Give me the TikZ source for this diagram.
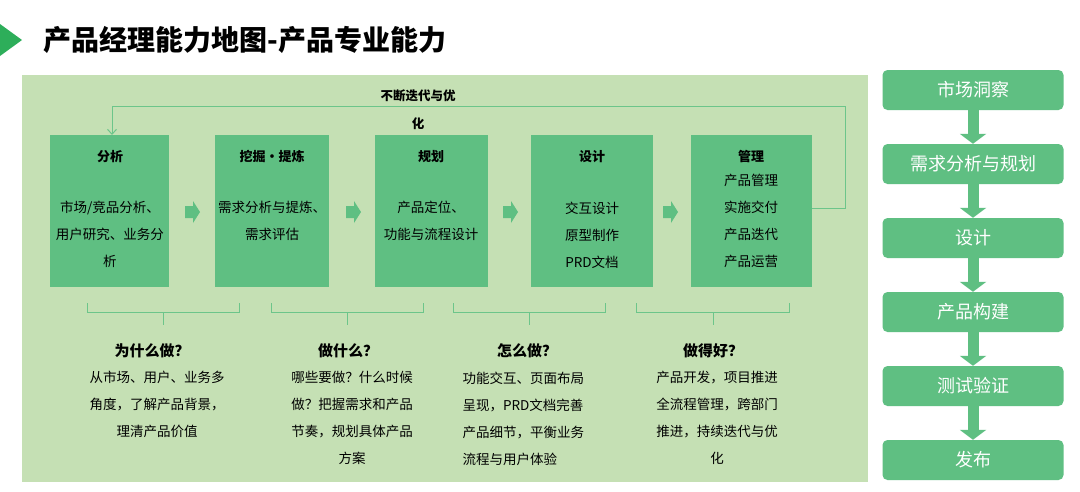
\documentclass[tikz,border=0pt]{standalone}
\usepackage{fontspec}
\setmainfont{Noto Sans CJK SC}
\usetikzlibrary{arrows.meta}
\definecolor{panel}{HTML}{C5E0B4}
\definecolor{boxg}{HTML}{5FBF82}
\definecolor{lineg}{HTML}{6CC58A}
\definecolor{tri}{HTML}{2DAE5A}
\begin{document}
\begin{tikzpicture}[x=1pt,y=-1pt,
  stage/.style={fill=boxg,draw=none,minimum width=#1,minimum height=152pt,anchor=north west,inner sep=0pt},
  stitle/.style={font=\fontsize{13}{15}\selectfont\bfseries},
  sbody/.style={font=\fontsize{13.5}{27}\selectfont,align=center},
  rbox/.style={fill=boxg,rounded corners=5pt,minimum width=181pt,minimum height=40pt,text=white,font=\fontsize{18}{20}\selectfont},
  downarr/.style={line width=11pt,draw=boxg,-{Triangle[width=26pt,length=10pt]}},
  brace/.style={draw=lineg,line width=1pt},
  qtitle/.style={font=\fontsize{15}{17}\selectfont\bfseries},
  qbody/.style={font=\fontsize{13.5}{27}\selectfont,align=center,anchor=north}]
\useasboundingbox (0,0) rectangle (1080,491);
\fill[white] (0,0) rectangle (1080,491);
\fill[tri] (0,24) -- (22,40) -- (0,56) -- cycle;
\node[anchor=west,font=\fontsize{28}{30}\selectfont\bfseries] (title) at (40,40) {产品经理能力地图-产品专业能力};
\fill[panel] (22,75) rectangle (868,482);
% stages
\node[stage=119pt] (s1) at (50,135) {};
\node[stage=114pt] (s2) at (215,135) {};
\node[stage=113pt] (s3) at (375,135) {};
\node[stage=122pt] (s4) at (531,135) {};
\node[stage=121pt] (s5) at (691,135) {};
\node[stitle] (t1) at (110,157) {分析};
\node[stitle] (t2) at (272,157) {挖掘·提炼};
\node[stitle] (t3) at (431,157) {规划};
\node[stitle] (t4) at (592,157) {设计};
\node[stitle] (t5) at (751,157) {管理};
\node[sbody,anchor=north] (b1) at (110,198) {市场/竞品分析、\\用户研究、业务分\\析};
\node[sbody,anchor=north] (b2) at (272,198) {需求分析与提炼、\\需求评估};
\node[sbody,anchor=north] (b3) at (431,198) {产品定位、\\功能与流程设计};
\node[sbody,anchor=north] (b4) at (592,198) {交互设计\\原型制作\\PRD文档};
\node[sbody,anchor=north] (b5) at (751,171) {产品管理\\实施交付\\产品迭代\\产品运营};
\foreach \x in {185,346,503,663}{
  \fill[boxg] (\x,206) -- (\x+8,206) -- (\x+8,201) -- (\x+15,212) -- (\x+8,223) -- (\x+8,218) -- (\x,218) -- cycle;
}
% loop
\coordinate (lp) at (s5.east |- 0,208);
\draw[lineg,line width=1pt,-{Straight Barb[length=5pt,width=9pt]}] (lp) -- (845,208) -- (845,106) -- (112,106) -- (112,135);
\node[font=\fontsize{12.5}{14}\selectfont\bfseries] (lt1) at (418,96) {不断迭代与优};
\node[font=\fontsize{12.5}{14}\selectfont\bfseries] (lt2) at (418,124) {化};
% braces
\foreach \a/\b/\m/\n in {87/239/163/1,271/423/347/2,453/605/529/3,636/789/713/4}{
  \draw[brace] (\a,303) -- (\a,312) -- (\b,312) -- (\b,303);
  \draw[brace] (\m,312) -- (\m,325);
}
\node[qtitle] (q1) at (152,351) {为什么做？};
\node[qtitle] (q2) at (348,351) {做什么？};
\node[qtitle] (q3) at (527,351) {怎么做？};
\node[qtitle] (q4) at (713,351) {做得好？};
\node[qbody] (d1) at (157,368) {从市场、用户、业务多\\角度，了解产品背景，\\理清产品价值};
\node[qbody] (d2) at (352,368) {哪些要做？什么时候\\做？把握需求和产品\\节奏，规划具体产品\\方案};
\node[qbody,align=left,anchor=north west] (d3) at (459,368) {功能交互、页面布局\\呈现，PRD文档完善\\产品细节，平衡业务\\流程与用户体验};
\node[qbody] (d4) at (717,368) {产品开发，项目推进\\全流程管理，跨部门\\推进，持续迭代与优\\化};
% right column
\node[rbox] (r1) at (973,90) {市场洞察};
\node[rbox] (r2) at (973,164) {需求分析与规划};
\node[rbox] (r3) at (973,238) {设计};
\node[rbox] (r4) at (973,312) {产品构建};
\node[rbox] (r5) at (973,386) {测试验证};
\node[rbox] (r6) at (973,460) {发布};
\foreach \p/\q in {r1/r2,r2/r3,r3/r4,r4/r5,r5/r6}{
  \draw[downarr] (\p.south) -- (\q.north);
}
\end{tikzpicture}
\end{document}
